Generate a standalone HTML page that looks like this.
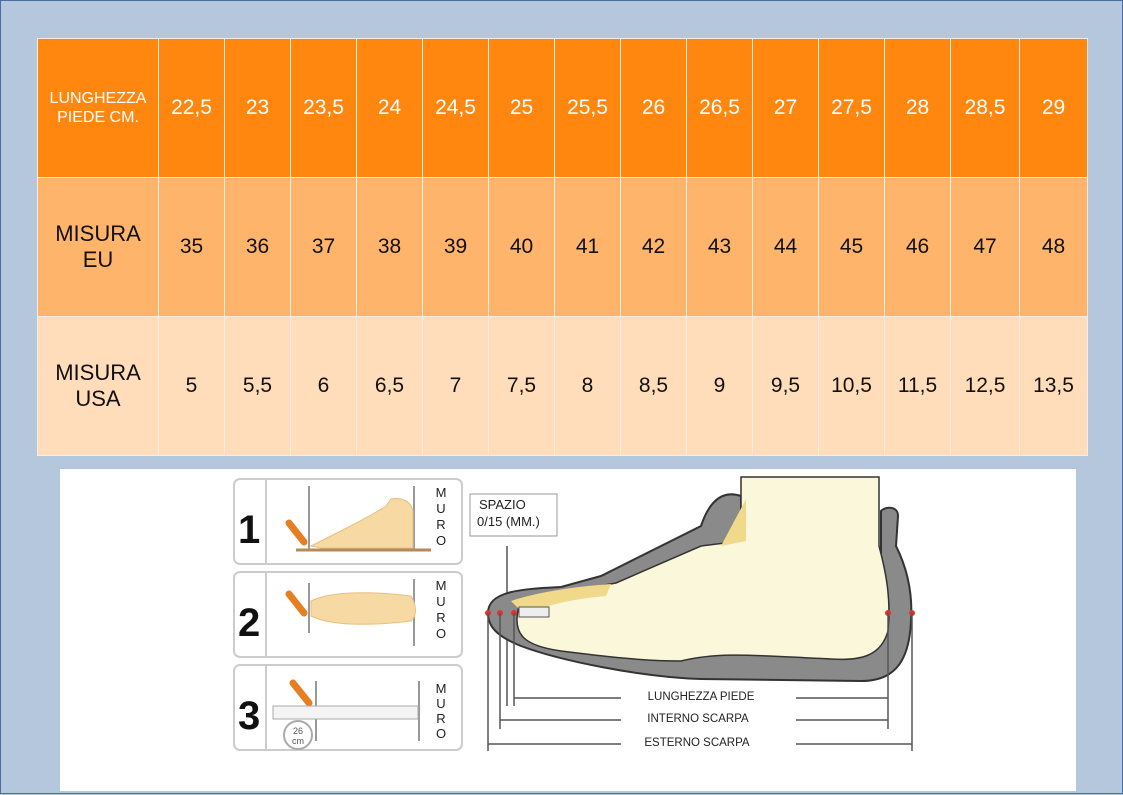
<!DOCTYPE html>
<html><head><meta charset="utf-8"><style>
html,body{margin:0;padding:0}
body{width:1123px;height:794px;background:#b5c7dd;position:relative;overflow:hidden;font-family:"Liberation Sans",sans-serif;box-sizing:border-box;border:1px solid #4a6ea0}
table{position:absolute;left:36px;top:37px;border-collapse:collapse;width:1050px;height:417px;table-layout:fixed}
td{border:1px solid #f6ece2;text-align:center;vertical-align:middle;font-size:21px;color:#111;padding:0}
tr.h td{background:#ff870f;color:#fff;font-size:21px}
tr.h td.f{font-size:16px;line-height:19px}
tr.a td{background:#ffb46c}
tr.b td{background:#ffdcba}
td.f{font-size:22px;line-height:26px}
#pic{position:absolute;left:59px;top:468px;width:1016px;height:322px;background:#fff}
</style></head><body>
<table>
<colgroup><col style="width:121px"><col style="width:66px"><col style="width:66px"><col style="width:66px"><col style="width:66px"><col style="width:66px"><col style="width:66px"><col style="width:66px"><col style="width:66px"><col style="width:66px"><col style="width:66px"><col style="width:66px"><col style="width:66px"><col style="width:69px"><col style="width:68px"></colgroup>
<tr class="h" style="height:139px"><td class="f">LUNGHEZZA<br>PIEDE CM.</td><td>22,5</td><td>23</td><td>23,5</td><td>24</td><td>24,5</td><td>25</td><td>25,5</td><td>26</td><td>26,5</td><td>27</td><td>27,5</td><td>28</td><td>28,5</td><td>29</td></tr>
<tr class="a" style="height:139px"><td class="f">MISURA<br>EU</td><td>35</td><td>36</td><td>37</td><td>38</td><td>39</td><td>40</td><td>41</td><td>42</td><td>43</td><td>44</td><td>45</td><td>46</td><td>47</td><td>48</td></tr>
<tr class="b" style="height:139px"><td class="f">MISURA<br>USA</td><td>5</td><td>5,5</td><td>6</td><td>6,5</td><td>7</td><td>7,5</td><td>8</td><td>8,5</td><td>9</td><td>9,5</td><td>10,5</td><td>11,5</td><td>12,5</td><td>13,5</td></tr>
</table>
<div id="pic"></div>
<svg width="1123" height="794" style="position:absolute;left:0;top:0" font-family="Liberation Sans, sans-serif">
<g fill="#fff" stroke="#ccc" stroke-width="2">
<rect x="233" y="478" width="228" height="85" rx="6"/>
<rect x="233" y="571" width="228" height="85" rx="6"/>
<rect x="233" y="664" width="228" height="85" rx="6"/>
</g>
<g stroke="#ccc" stroke-width="2"><line x1="265" y1="478" x2="265" y2="563"/><line x1="265" y1="571" x2="265" y2="656"/><line x1="265" y1="664" x2="265" y2="749"/></g>
<g font-size="40" font-weight="bold" fill="#111"><text x="237" y="542">1</text><text x="237" y="635">2</text><text x="237" y="728">3</text></g>
<g font-size="13" fill="#222" text-anchor="middle">
<text x="440" y="496">M</text><text x="440" y="512">U</text><text x="440" y="528">R</text><text x="440" y="544">O</text>
<text x="440" y="589">M</text><text x="440" y="605">U</text><text x="440" y="621">R</text><text x="440" y="637">O</text>
<text x="440" y="692">M</text><text x="440" y="707">U</text><text x="440" y="722">R</text><text x="440" y="737">O</text></g>
<g stroke="#999" stroke-width="2"><line x1="413" y1="485" x2="413" y2="550"/><line x1="413" y1="578" x2="413" y2="645"/><line x1="418" y1="680" x2="418" y2="740"/>
<line x1="308" y1="485" x2="308" y2="550"/><line x1="308" y1="582" x2="308" y2="632"/><line x1="315" y1="680" x2="315" y2="740"/></g>
<line x1="295" y1="549" x2="430" y2="549" stroke="#b58a5a" stroke-width="3"/>
<path d="M310,545 C340,530 370,515 385,505 L390,498 C400,496 410,500 412,510 L412,547 L320,547 Z" fill="#f7d9a3" stroke="#e8c080"/>
<path d="M310,600 C330,590 370,590 410,595 C416,605 416,615 410,620 C370,625 330,625 310,615 Z" fill="#f7d9a3" stroke="#e8c080"/>
<g stroke="#e67e22" stroke-width="7" stroke-linecap="round"><line x1="288" y1="522" x2="303" y2="541"/><line x1="288" y1="593" x2="303" y2="612"/><line x1="292" y1="682" x2="308" y2="702"/></g>
<rect x="272" y="705" width="145" height="13" fill="#f4f4f4" stroke="#aaa"/>
<circle cx="297" cy="734" r="14" fill="#fff" stroke="#aaa" stroke-width="2"/>
<text x="297" y="733" font-size="9" text-anchor="middle" fill="#555">26</text><text x="297" y="743" font-size="9" text-anchor="middle" fill="#555">cm</text>
<rect x="469" y="493" width="87" height="42" fill="#fff" stroke="#999"/>
<text x="478" y="508" font-size="13" fill="#222">SPAZIO</text><text x="476" y="525" font-size="13" fill="#222">0/15 (MM.)</text>
<line x1="506" y1="545" x2="506" y2="705" stroke="#555" stroke-width="1.5"/>
<path d="M487,612 C487,590 520,588 560,586 L600,575 L700,525 C710,495 725,490 740,495 L740,555 L880,555 L880,510 C885,505 897,505 897,515 L895,545 C905,565 912,590 910,620 C908,665 890,680 860,680 L700,678 C640,676 560,660 520,645 C495,635 487,625 487,612 Z" fill="#8a8a8a" stroke="#333" stroke-width="2"/>
<path d="M518,605 C550,590 600,585 615,582 L700,545 L740,540 L740,476 L878,476 L878,545 C886,575 890,600 887,630 C880,655 860,660 830,658 C760,655 720,650 680,660 C640,660 600,655 560,650 C525,645 510,635 518,605 Z" fill="#faf7da" stroke="#333" stroke-width="1.5"/>
<path d="M720,545 L745,498 L745,540 Z" fill="#f0d98a"/>
<path d="M510,600 C540,590 580,585 610,583 L605,595 C570,598 540,605 525,615 Z" fill="#f0d98a"/>
<rect x="518" y="606" width="30" height="10" fill="#eee" stroke="#555"/>
<g fill="#d33"><circle cx="487" cy="612" r="3"/><circle cx="499" cy="612" r="3"/><circle cx="513" cy="612" r="3"/><circle cx="887" cy="612" r="3"/><circle cx="911" cy="612" r="3"/></g>
<g stroke="#555" stroke-width="1.5"><line x1="513" y1="612" x2="513" y2="705"/><line x1="499" y1="612" x2="499" y2="728"/><line x1="487" y1="612" x2="487" y2="750"/><line x1="887" y1="612" x2="887" y2="728"/><line x1="911" y1="612" x2="911" y2="750"/>
<line x1="513" y1="697" x2="620" y2="697"/><line x1="795" y1="697" x2="887" y2="697"/>
<line x1="499" y1="719" x2="620" y2="719"/><line x1="795" y1="719" x2="887" y2="719"/>
<line x1="487" y1="743" x2="620" y2="743"/><line x1="795" y1="743" x2="911" y2="743"/></g>
<g font-size="11.5" fill="#222" text-anchor="middle"><text x="700" y="699">LUNGHEZZA PIEDE</text><text x="697" y="721">INTERNO SCARPA</text><text x="696" y="745">ESTERNO SCARPA</text></g>
</svg>
</body></html>
